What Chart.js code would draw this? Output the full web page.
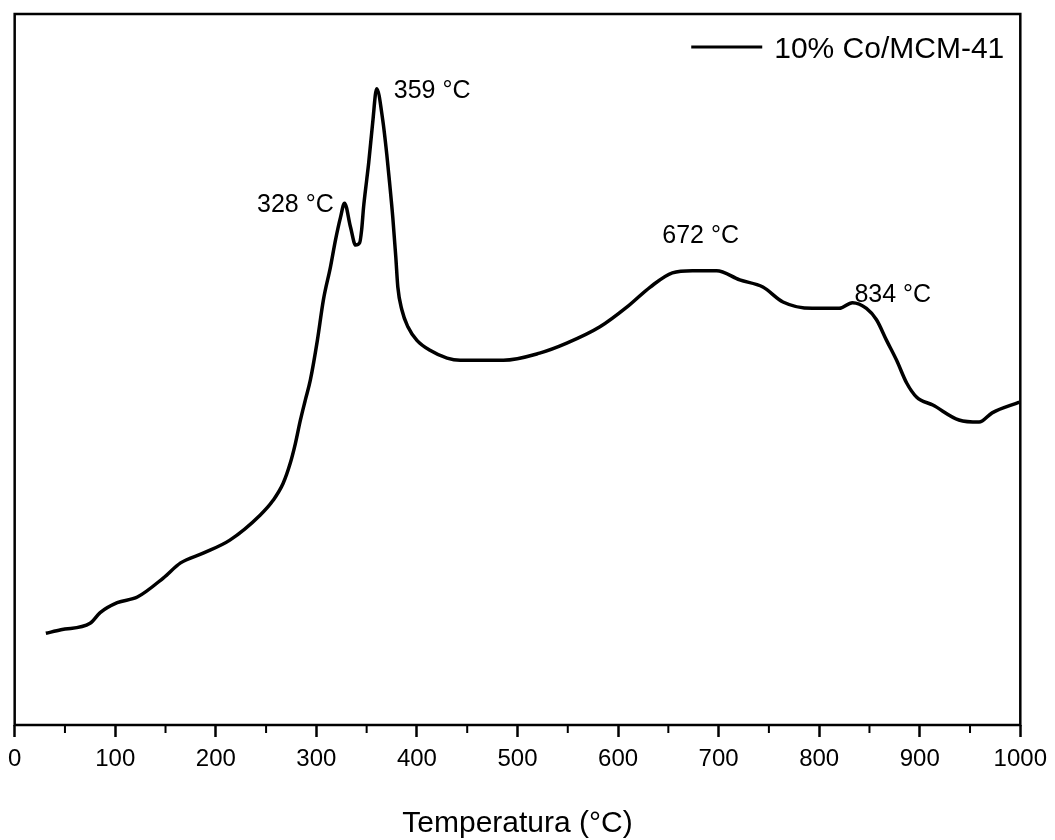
<!DOCTYPE html>
<html><head><meta charset="utf-8">
<script src="https://cdn.jsdelivr.net/npm/chart.js@4.4.1/dist/chart.umd.min.js"></script>
<style>html,body{margin:0;padding:0;background:#fff}</style>
</head><body>
<canvas id="c" width="1055" height="840"></canvas>
<script>
const temperature = [31, 46, 75, 85, 102, 122, 148, 165, 188, 214, 244, 257, 267, 274, 279, 284, 289, 294, 301, 307, 314, 319, 324, 328, 334, 339, 343, 345, 347, 350, 352, 356, 360, 366, 370, 373, 376, 379, 381, 385, 391, 400, 413, 430, 443, 486, 522, 549, 582, 609, 632, 654, 674, 698, 721, 744, 764, 793, 820, 833, 847, 857, 867, 877, 887, 897, 913, 939, 959, 972, 999];
const signal = [12.9, 13.4, 14.3, 15.8, 17.2, 18.0, 20.7, 22.8, 24.2, 26.0, 29.5, 31.6, 34.0, 36.8, 39.5, 42.8, 45.7, 48.5, 54.1, 59.8, 64.4, 68.2, 71.4, 73.4, 70.0, 67.5, 67.8, 69.6, 72.9, 76.6, 79.0, 84.7, 89.5, 85.1, 80.3, 76.0, 71.4, 65.8, 61.6, 58.4, 56.0, 54.1, 52.7, 51.6, 51.3, 51.3, 52.3, 53.7, 56.0, 58.8, 61.6, 63.6, 63.9, 63.9, 62.6, 61.6, 59.5, 58.6, 58.6, 59.4, 58.6, 57.0, 54.1, 51.3, 48.1, 46.1, 45.0, 42.9, 42.6, 43.9, 45.4];
const majorTicks = [0, 100, 200, 300, 400, 500, 600, 700, 800, 900, 1000];
const minorTicks = [50, 150, 250, 350, 450, 550, 650, 750, 850, 950];
const peakLabels = ['328 °C', '359 °C', '672 °C', '834 °C'];
const peakLabelX = [241, 377, 644, 835];
const peakLabelY = [72.2, 88.2, 67.8, 59.5];
const seriesName = '10% Co/MCM-41';
const axisTitle = 'Temperatura (°C)';

const FONT = 'Arial, "Liberation Sans", sans-serif';

const framePlugin = {
  id: 'frame',
  afterDraw(chart) {
    const {ctx, chartArea: a, scales} = chart;
    ctx.save();
    ctx.strokeStyle = '#000';
    ctx.lineWidth = 2.5;
    ctx.strokeRect(a.left, a.top, a.right - a.left, a.bottom - a.top);
    ctx.lineWidth = 2;
    ctx.beginPath();
    minorTicks.forEach(v => {
      const x = scales.x.getPixelForValue(v);
      ctx.moveTo(x, a.bottom);
      ctx.lineTo(x, a.bottom + 8);
    });
    ctx.stroke();
    ctx.fillStyle = '#000';
    ctx.font = '25px ' + FONT;
    ctx.textAlign = 'left';
    ctx.textBaseline = 'alphabetic';
    peakLabels.forEach((t, i) => {
      ctx.fillText(t, scales.x.getPixelForValue(peakLabelX[i]), scales.y.getPixelForValue(peakLabelY[i]));
    });
    // legend (top right, inside plot)
    const ds = chart.data.datasets[0];
    ctx.font = '30px ' + FONT;
    ctx.textAlign = 'right';
    ctx.textBaseline = 'alphabetic';
    const textRight = a.right - 16;
    const baseY = a.top + 44;
    ctx.fillText(ds.label, textRight, baseY);
    const tw = ctx.measureText(ds.label).width;
    const lineEnd = textRight - tw - 12;
    ctx.strokeStyle = ds.borderColor;
    ctx.lineWidth = 3;
    ctx.beginPath();
    ctx.moveTo(lineEnd - 71, baseY - 11);
    ctx.lineTo(lineEnd, baseY - 11);
    ctx.stroke();
    ctx.restore();
  }
};

new Chart(document.getElementById('c'), {
  type: 'line',
  data: {
    datasets: [{
      label: seriesName,
      data: temperature.map((t, i) => ({x: t, y: signal[i]})),
      borderColor: '#000',
      backgroundColor: '#000',
      borderWidth: 3.5,
      pointRadius: 0,
      cubicInterpolationMode: 'monotone',
      fill: false
    }]
  },
  options: {
    responsive: false,
    animation: false,
    devicePixelRatio: 1,
    layout: {padding: {left: 14, right: 34, top: 14, bottom: 0}},
    plugins: {
      legend: {display: false},
      tooltip: {enabled: false}
    },
    scales: {
      x: {
        type: 'linear',
        min: 0, max: 1000,
        afterBuildTicks: s => { s.ticks = majorTicks.map(v => ({value: v})); },
        afterFit: s => { s.height = 115; },
        border: {display: false},
        grid: {drawOnChartArea: false, tickLength: 12, tickWidth: 2.5, color: '#000'},
        ticks: {color: '#000', font: {family: FONT, size: 24}, padding: 8, maxRotation: 0, autoSkip: false, callback: v => String(v)},
        title: {display: true, text: axisTitle, color: '#000', font: {family: FONT, size: 30, lineHeight: 1.1}, padding: 0}
      },
      y: {
        display: false,
        min: 0, max: 100
      }
    }
  },
  plugins: [framePlugin]
});
</script>
</body></html>
